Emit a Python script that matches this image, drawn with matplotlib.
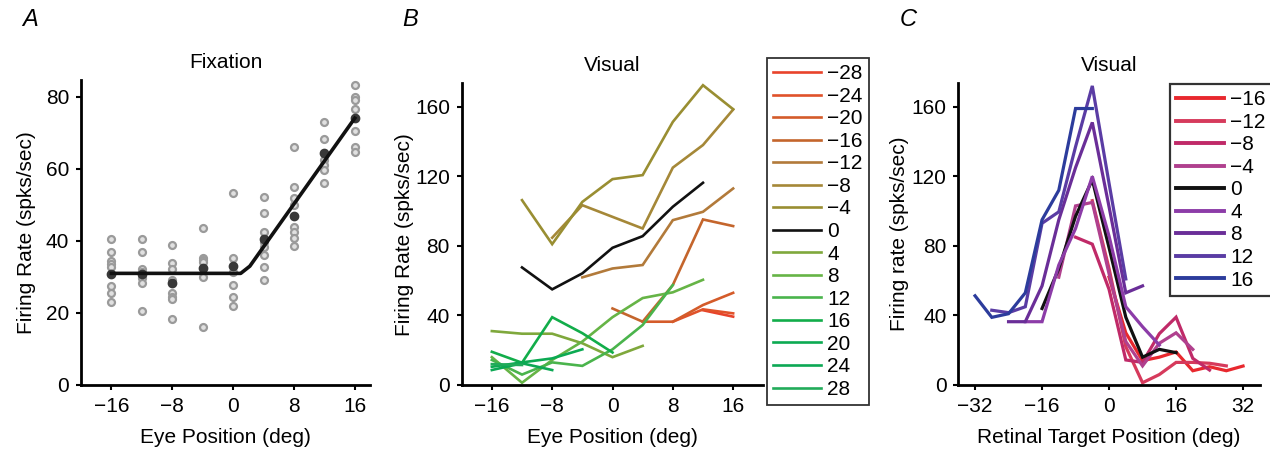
import matplotlib
matplotlib.use("Agg")
import matplotlib.pyplot as plt
from matplotlib.lines import Line2D

plt.rcParams['font.family'] = ['Liberation Sans', 'DejaVu Sans']
FS = 15

# ---------------- Panel A data (Fixation) ----------------
eye_a = [-16, -12, -8, -4, 0, 4, 8, 12, 16]
trials_m16 = [40.6, 36.9, 34.4, 33.6, 32.9, 27.5, 25.5, 23.1]
trials_m12 = [40.6, 36.9, 32.1, 31.5, 30.3, 29.6, 28.2, 20.6]
trials_m8 = [39.0, 33.8, 32.1, 29.2, 25.5, 24.5, 23.8, 18.3]
trials_m4 = [43.5, 35.4, 34.7, 34.1, 29.9, 16.2]
trials_0 = [53.2, 35.4, 31.5, 27.8, 24.5, 22.0]
trials_p4 = [52.3, 47.9, 42.6, 39.8, 38.4, 36.1, 32.7, 29.2]
trials_p8 = [66.2, 54.9, 51.9, 50.0, 44.0, 42.6, 40.9, 38.7]
trials_p12 = [72.9, 68.3, 62.5, 61.1, 59.7, 56.2]
trials_p16 = [83.3, 79.9, 79.2, 76.7, 70.4, 66.2, 64.8]
trials_a = [trials_m16, trials_m12, trials_m8, trials_m4, trials_0,
            trials_p4, trials_p8, trials_p12, trials_p16]
means_a = [30.8, 30.8, 28.4, 32.5, 33.0, 40.6, 47.0, 64.4, 74.1]
fit_x = [-16, 1.0, 2.2, 16]
fit_y = [31.0, 31.0, 33.0, 74.1]

# ---------------- Panel B data (Visual vs eye position) ----------------
b_labels = [-28, -24, -20, -16, -12, -8, -4, 0, 4, 8, 12, 16, 20, 24, 28]
b_start = [12, 8, 4, 0, -4, -8, -12, -12, -16, -16, -16, -16, -16, -16, -16]
b_m28 = [43.0, 39.3]
b_m24 = [36.4, 43.5, 41.2]
b_m20 = [36.4, 36.4, 46.0, 53.0]
b_m16 = [44.0, 36.4, 57.5, 95.2, 91.4]
b_m12 = [61.9, 67.0, 69.0, 94.8, 99.6, 113.0]
b_m8 = [84.7, 103.4, 96.7, 90.0, 125.0, 138.0, 158.4]
b_m4 = [106.3, 81.0, 105.3, 118.4, 120.7, 151.3, 172.4, 158.6]
b_0 = [67.6, 55.0, 64.2, 78.9, 85.6, 102.5, 116.3]
b_p4 = [31.0, 29.5, 29.5, 24.0, 16.0, 22.5]
b_p8 = [16.0, 1.3, 14.4, 25.0, 39.0, 50.0, 53.3, 60.5]
b_p12 = [14.4, 6.0, 13.0, 11.0, 20.5, 34.5, 57.5]
b_p16 = [19.1, 12.8, 39.0, 29.8, 18.7]
b_p20 = [10.5, 13.0, 15.3, 20.5]
b_p24 = [8.6, 12.5, 8.6]
b_p28 = [12.0, 11.5]
b_values = [b_m28, b_m24, b_m20, b_m16, b_m12, b_m8, b_m4, b_0,
            b_p4, b_p8, b_p12, b_p16, b_p20, b_p24, b_p28]
b_colors = ['#e8432b', '#e0522a', '#d45b2a', '#c4652c', '#b27a3a', '#a58838',
            '#998e32', '#111111', '#7fa83c', '#66b446', '#4ab44c', '#12ad4a',
            '#0caa52', '#0ca854', '#22ab5a']

# ---------------- Panel C data (Visual vs retinal position) ----------------
c_labels = [-16, -12, -8, -4, 0, 4, 8, 12, 16]
c_start = [0, -4, -8, -12, -16, -20, -24, -28, -32]
c_m16 = [62.0, 30.0, 14.0, 16.0, 19.0, 8.2, 10.5, 8.2, 10.9]
c_m12 = [106.0, 67.0, 22.0, 1.3, 6.0, 13.0, 13.0, 12.5, 11.0]
c_m8 = [85.0, 81.0, 55.0, 14.4, 13.0, 29.5, 39.0, 15.3, 8.6]
c_m4 = [62.0, 103.0, 105.0, 64.0, 25.0, 11.0, 24.0, 30.0, 20.5]
c_0 = [44.0, 67.0, 97.0, 118.0, 79.0, 39.0, 16.0, 20.5, 18.6]
c_p4 = [36.4, 36.4, 69.0, 90.0, 120.0, 85.6, 45.0, 33.5, 23.0]
c_p8 = [36.4, 36.4, 57.0, 95.0, 125.0, 151.0, 102.5, 53.0, 57.0]
c_p12 = [43.0, 41.6, 45.0, 93.0, 99.6, 137.0, 172.0, 116.0, 61.0]
c_p16 = [51.3, 38.9, 41.0, 53.0, 95.0, 112.0, 159.0, 159.0]
c_values = [c_m16, c_m12, c_m8, c_m4, c_0, c_p4, c_p8, c_p12, c_p16]
c_colors = ['#e8282e', '#d63a5c', '#c02a68', '#b0408e', '#111111', '#8c3ca8',
            '#6a2e98', '#5a3ca4', '#2c3c9c']


def fmt(v):
    return '\u2212' + str(-v) if v < 0 else str(v)


W, H = 1270, 455
fig = plt.figure(figsize=(W / 100, H / 100), dpi=100)


def style(ax):
    for s in ['top', 'right']:
        ax.spines[s].set_visible(False)
    for s in ['left', 'bottom']:
        ax.spines[s].set_linewidth(2.0)
    ax.tick_params(direction='out', length=3.5, width=1.5, labelsize=FS, pad=5)


def px_axes(left, right, top, bottom):
    return fig.add_axes([left / W, (H - bottom) / H, (right - left) / W, (bottom - top) / H])


# ---------------- Panel A ----------------
axA = px_axes(81, 370, 80, 385)
for x, tr in zip(eye_a, trials_a):
    axA.plot([x] * len(tr), tr, 'o', ms=5.0, mfc='#e0e0e0', mec='#9a9a9a', mew=1.6,
             linestyle='none', zorder=2)
axA.plot(eye_a, means_a, 'o', ms=6.0, mfc='#383838', mec='#383838', zorder=3)
axA.plot(fit_x, fit_y, '-', color='#111111', lw=2.6, zorder=4)
axA.set_xlim(-20, 18)
axA.set_ylim(0, 84.7)
axA.set_xticks([-16, -8, 0, 8, 16])
axA.set_xticklabels([fmt(v) for v in [-16, -8, 0, 8, 16]])
axA.set_yticks([0, 20, 40, 60, 80])
style(axA)
axA.set_title('Fixation', fontsize=FS, pad=9)
axA.set_xlabel('Eye Position (deg)', fontsize=FS, labelpad=9)
axA.set_ylabel('Firing Rate (spks/sec)', fontsize=FS, labelpad=7)

# ---------------- Panel B ----------------
axB = px_axes(461.7, 763.3, 83.3, 385)
handles_b = []
for lab, st, vals, col in zip(b_labels, b_start, b_values, b_colors):
    xs = [st + 4 * i for i in range(len(vals))]
    axB.plot(xs, vals, '-', color=col, lw=1.9, solid_joinstyle='miter')
    handles_b.append(Line2D([], [], color=col, lw=1.9))
axB.set_xlim(-20, 20)
axB.set_ylim(0, 173.5)
axB.set_xticks([-16, -8, 0, 8, 16])
axB.set_xticklabels([fmt(v) for v in [-16, -8, 0, 8, 16]])
axB.set_yticks([0, 40, 80, 120, 160])
style(axB)
axB.set_title('Visual', fontsize=FS, pad=9)
axB.set_xlabel('Eye Position (deg)', fontsize=FS, labelpad=9)
axB.set_ylabel('Firing Rate (spks/sec)', fontsize=FS, labelpad=1)

legB = fig.legend(handles_b, [fmt(v) for v in b_labels], loc='upper left',
                  bbox_to_anchor=(767 / W, (H - 58) / H), fontsize=FS,
                  frameon=True, fancybox=False, edgecolor='black',
                  handlelength=2.3, handletextpad=0.3, labelspacing=0.17,
                  borderpad=0.3, borderaxespad=0)
legB.get_frame().set_linewidth(1.3)

# ---------------- Panel C ----------------
axC = px_axes(958.3, 1259.8, 83.3, 385)
handles_c = []
for lab, st, vals, col in zip(c_labels, c_start, c_values, c_colors):
    xs = [st + 4 * i for i in range(len(vals))]
    axC.plot(xs, vals, '-', color=col, lw=2.3, solid_joinstyle='miter')
    handles_c.append(Line2D([], [], color=col, lw=2.8))
axC.set_xlim(-36, 36)
axC.set_ylim(0, 173.5)
axC.set_xticks([-32, -16, 0, 16, 32])
axC.set_xticklabels([fmt(v) for v in [-32, -16, 0, 16, 32]])
axC.set_yticks([0, 40, 80, 120, 160])
style(axC)
axC.set_title('Visual', fontsize=FS, pad=9)
axC.set_xlabel('Retinal Target Position (deg)', fontsize=FS, labelpad=9)
axC.set_ylabel('Firing rate (spks/sec)', fontsize=FS, labelpad=2)

legC = fig.legend(handles_c, [fmt(v) for v in c_labels], loc='upper left',
                  bbox_to_anchor=(1170 / W, (H - 84) / H), fontsize=FS,
                  frameon=True, fancybox=False, edgecolor='black',
                  handlelength=2.3, handletextpad=0.3, labelspacing=0.17,
                  borderpad=0.3, borderaxespad=0)
legC.get_frame().set_linewidth(1.6)

# Panel letters
for txt, x in [('A', 30), ('B', 410), ('C', 908)]:
    fig.text(x / W, (H - 20) / H, txt, fontsize=17, style='italic',
             ha='center', va='center')

fig.savefig('out.png', dpi=100)
